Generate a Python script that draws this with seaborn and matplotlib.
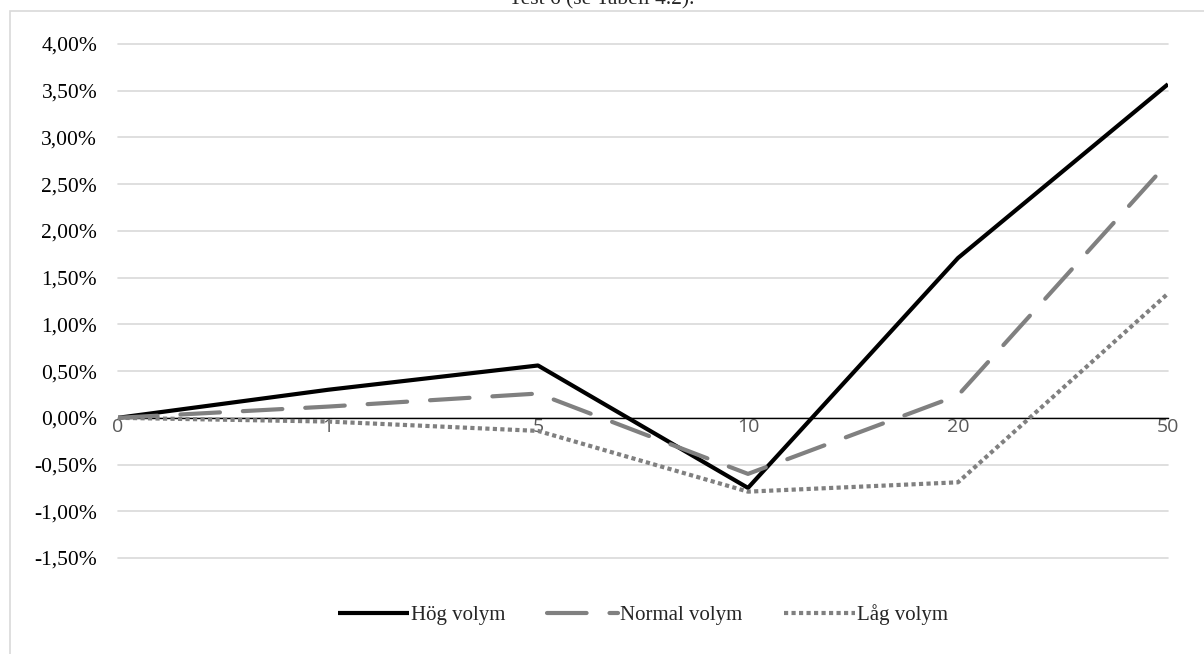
import numpy as np
import pandas as pd
import matplotlib.pyplot as plt
import matplotlib.patches as patches
from matplotlib.ticker import FuncFormatter, MultipleLocator
import seaborn as sns

# data (percent)
days = ['0', '1', '5', '10', '20', '50']
hog = [0.00, 0.30, 0.56, -0.75, 1.71, 3.57]
normal = [0.00, 0.12, 0.26, -0.60, 0.24, 2.73]
lag = [0.00, -0.04, -0.14, -0.79, -0.69, 1.33]
series_names = ['Hög volym', 'Normal volym', 'Låg volym']

df = pd.DataFrame({
    'pos': list(range(len(days))) * 3,
    'value': hog + normal + lag,
    'serie': [n for n in series_names for _ in days],
})

sns.set_style("white")
plt.rcParams['font.family'] = ['Liberation Serif', 'DejaVu Serif']

fig = plt.figure(figsize=(12.04, 6.54), dpi=100)
ax = fig.add_axes([118/1204, 96/654, 1050/1204, 514/654])

styles = {
    'Hög volym': dict(color='black', linestyle='-', dash_capstyle='butt'),
    'Normal volym': dict(color='#808080', linestyle=(0, (9.5, 5.5)), dash_capstyle='round'),
    'Låg volym': dict(color='#808080', linestyle=(0, (1, 0.8)), dash_capstyle='butt'),
}
for name in series_names:
    sub = df[df['serie'] == name]
    sns.lineplot(data=sub, x='pos', y='value', ax=ax, label=name,
                 linewidth=3.0, solid_capstyle='butt', **styles[name])

ax.set_xlim(0, len(days) - 1)
ax.set_ylim(-1.5, 4.0)
ax.yaxis.set_major_locator(MultipleLocator(0.5))
ax.yaxis.set_major_formatter(FuncFormatter(lambda v, p: f"{v:.2f}%".replace('.', ',')))
ax.grid(axis='y', color='#d9d9d9', linewidth=1.2)
for gl in ax.get_ygridlines():
    gl.set_clip_on(False)
ax.set_axisbelow(True)
for s in ['top', 'right', 'left']:
    ax.spines[s].set_visible(False)
ax.spines['bottom'].set_position(('data', 0))
ax.spines['bottom'].set_color('black')
ax.spines['bottom'].set_linewidth(1)
ax.spines['bottom'].set_zorder(1)

ax.set_xticks(range(len(days)))
ax.set_xticklabels(days, color='#595959', fontsize=14, family=['Open Sans', 'DejaVu Sans'])
ax.tick_params(axis='x', length=0, pad=0)
ax.tick_params(axis='y', length=0, pad=15, labelsize=15.5, labelcolor='black')
ax.set_xlabel('')
ax.set_ylabel('')

ax.legend(loc='center', ncol=3, frameon=False,
          fontsize=15, handlelength=3.4, columnspacing=2.0, handletextpad=0.1)
leg = ax.get_legend()
leg.set_bbox_to_anchor((0.5, -(615 - 558) / 514), transform=ax.transAxes)

# chart frame and clipped title as in the source
fig.patches.append(patches.Rectangle((10/1204, -0.5), 2, (654 - 11)/654 + 0.5,
                                     transform=fig.transFigure, fill=False,
                                     edgecolor='#d9d9d9', linewidth=1.2))
fig.text(0.5, 1 - 4/654, 'Test 6 (se Tabell 4.2).', ha='center', va='baseline', fontsize=15.5)

fig.savefig('out.png', dpi=100)
